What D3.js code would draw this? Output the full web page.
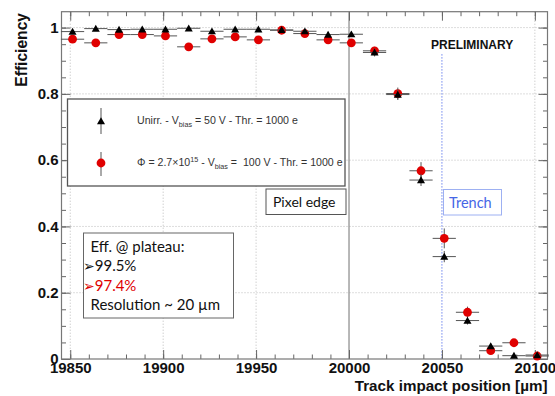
<!DOCTYPE html>
<html>
<head>
<meta charset="utf-8">
<script src="https://cdn.jsdelivr.net/npm/d3@7"></script>
<style>
  body { margin: 0; background: #fff; }
  svg { display: block; }
  .axis path, .axis line { stroke: #666; }
  .lab { font-family: "Liberation Sans", Arial, sans-serif; font-weight: bold; }
  .box { font-family: Lato, "Open Sans", sans-serif; }
</style>
</head>
<body>
<div id="chart"></div>
<script>
// ---------------- DATA ----------------
const binCenters = [19851.25, 19863.75, 19876.25, 19888.75, 19901.25, 19913.75, 19926.25,
  19938.75, 19951.25, 19963.75, 19976.25, 19988.75, 20001.25, 20013.75, 20026.25,
  20038.75, 20051.25, 20063.75, 20076.25, 20088.75, 20101.25];
const binHalfWidth = 6.25;
const unirrEff = [0.988, 0.997, 0.994, 0.995, 0.995, 0.998, 0.989, 0.995, 0.995, 0.993, 0.989,
  0.979, 0.980, 0.925, 0.798, 0.540, 0.309, 0.116, 0.039, 0.010, 0.012];
const unirrErr = [0.006, 0.004, 0.005, 0.005, 0.005, 0.003, 0.006, 0.005, 0.005, 0.005, 0.006,
  0.008, 0.008, 0.012, 0.016, 0.018, 0.017, 0.012, 0.008, 0.005, 0.005];
const irrEff = [0.965, 0.954, 0.979, 0.979, 0.975, 0.942, 0.966, 0.972, 0.963, 0.992, 0.982,
  0.963, 0.954, 0.930, 0.801, 0.568, 0.364, 0.141, 0.025, 0.049, 0.009];
const irrErr = [0.008, 0.009, 0.007, 0.007, 0.007, 0.010, 0.008, 0.008, 0.008, 0.005, 0.006,
  0.008, 0.009, 0.012, 0.018, 0.026, 0.030, 0.017, 0.008, 0.010, 0.005];
const xTicks = [19850, 19900, 19950, 20000, 20050, 20100];
const yTicks = [0, 0.2, 0.4, 0.6, 0.8, 1];
const plateauLines = ["99.5%", "97.4%"];

// ---------------- SETUP ----------------
const width = 555, height = 396;
const pL = 61.5, pR = 547.5, pT = 11.7, pB = 359;

const svg = d3.select("#chart").append("svg")
  .attr("width", width).attr("height", height);

const x = d3.scaleLinear().domain([19845.3, 20106.8]).range([pL, pR]);
const y = d3.scaleLinear().domain([0, 1.048]).range([pB, pT]);

// grid (dotted)
const grid = svg.append("g").attr("stroke", "#bbb").attr("stroke-dasharray", "1,2").attr("stroke-width", 1);
grid.selectAll(".gx").data(xTicks.filter(d => d !== 20000 && d !== 20050)).enter().append("line")
  .attr("x1", d => x(d)).attr("x2", d => x(d)).attr("y1", pT).attr("y2", pB);
grid.selectAll(".gy").data(yTicks.filter(d => d > 0)).enter().append("line")
  .attr("y1", d => y(d)).attr("y2", d => y(d)).attr("x1", pL).attr("x2", pR);

// pixel edge (solid) and trench (blue dotted)
svg.append("line").attr("x1", x(20000)).attr("x2", x(20000)).attr("y1", pT).attr("y2", pB)
  .attr("stroke", "#888").attr("stroke-width", 1.2);
svg.append("line").attr("x1", x(20050)).attr("x2", x(20050)).attr("y1", y(0.92)).attr("y2", pB)
  .attr("stroke", "#6f86ee").attr("stroke-dasharray", "1.5,1.5").attr("stroke-width", 1);

// ---------------- AXES ----------------
const minorX = d3.range(19850, 20107, 10);
const minorY = d3.range(0, 1.04, 0.05);

function addAxis(gen, tf, vals, size, fmt) {
  const g = svg.append("g").attr("class", "axis").attr("transform", tf)
    .call(gen.tickValues(vals).tickSizeInner(size).tickSizeOuter(0).tickPadding(4)
      .tickFormat(fmt || (() => "")));
  g.select(".domain").remove();
  return g;
}
const xb = addAxis(d3.axisBottom(x), `translate(0,${pB})`, xTicks, -9, d3.format("d"));
xb.selectAll("text").attr("class", "lab").attr("font-size", 15).attr("fill", "#111").attr("dy", "0.71em").attr("y", 3.5);
addAxis(d3.axisBottom(x), `translate(0,${pB})`, minorX, -4.5);
addAxis(d3.axisTop(x), `translate(0,${pT})`, xTicks, -9);
addAxis(d3.axisTop(x), `translate(0,${pT})`, minorX, -4.5);
const yl = addAxis(d3.axisLeft(y), `translate(${pL},0)`, yTicks, -9, d => d3.format("")(+d.toFixed(1)));
yl.selectAll("text").attr("class", "lab").attr("font-size", 15).attr("fill", "#111").attr("x", -3);
addAxis(d3.axisLeft(y), `translate(${pL},0)`, minorY, -4.5);
addAxis(d3.axisRight(y), `translate(${pR},0)`, yTicks, -9);
addAxis(d3.axisRight(y), `translate(${pR},0)`, minorY, -4.5);

// frame
svg.append("rect").attr("x", pL).attr("y", pT).attr("width", pR - pL).attr("height", pB - pT)
  .attr("fill", "none").attr("stroke", "#777").attr("stroke-width", 1.2);

// axis titles
svg.append("text").attr("class", "lab").attr("font-size", 15.2).attr("fill", "#111")
  .attr("text-anchor", "end").attr("x", pR).attr("y", 390.5).text("Track impact position [\u00b5m]");
svg.append("text").attr("class", "lab").attr("font-size", 15.6).attr("fill", "#111")
  .attr("text-anchor", "end").attr("transform", "translate(27,13) rotate(-90)").text("Efficiency");

svg.append("text").attr("class", "lab").attr("font-size", 12).attr("fill", "#111")
  .attr("x", 431).attr("y", 49).text("PRELIMINARY");

// ---------------- POINTS ----------------
const tri = d3.symbol().type(d3.symbolTriangle).size(28);
function drawSeries(vals, errs, marker) {
  const g = svg.append("g");
  const pts = binCenters.map((c, i) => ({ c, v: vals[i], e: errs[i] }));
  g.selectAll(".h").data(pts).enter().append("line")
    .attr("x1", d => x(d.c - binHalfWidth)).attr("x2", d => x(d.c + binHalfWidth))
    .attr("y1", d => y(d.v)).attr("y2", d => y(d.v)).attr("stroke", "#555").attr("stroke-width", 1);
  g.selectAll(".v").data(pts).enter().append("line")
    .attr("x1", d => x(d.c)).attr("x2", d => x(d.c))
    .attr("y1", d => y(d.v - d.e)).attr("y2", d => y(d.v + d.e)).attr("stroke", "#555").attr("stroke-width", 1);
  marker(g.selectAll(".m").data(pts).enter(), d => x(d.c), d => y(d.v));
}
const redDot = (sel, fx, fy) => sel.append("circle").attr("cx", fx).attr("cy", fy).attr("r", 4.4).attr("fill", "#e00000");
const blackTri = (sel, fx, fy) => sel.append("path").attr("d", tri)
  .attr("transform", d => `translate(${fx(d)},${fy(d) + 0.8})`).attr("fill", "#000");
drawSeries(irrEff, irrErr, redDot);
drawSeries(unirrEff, unirrErr, blackTri);

// ---------------- LEGEND ----------------
const leg = svg.append("g").attr("font-family", "'Liberation Sans', Arial, sans-serif").attr("font-size", 10.6).attr("fill", "#333");
leg.append("rect").attr("x", 67.5).attr("y", 99).attr("width", 277.5).attr("height", 87)
  .attr("fill", "#fff").attr("stroke", "#555").attr("stroke-width", 1.3);
[[108, 134], [152, 176]].forEach(([y1, y2]) => {
  leg.append("line").attr("x1", 101).attr("x2", 101).attr("y1", y1).attr("y2", y2).attr("stroke", "#555");
});
leg.append("path").attr("d", tri).attr("transform", "translate(101,122)").attr("fill", "#000");
leg.append("circle").attr("cx", 101).attr("cy", 163).attr("r", 4.4).attr("fill", "#e00000");
const t1 = leg.append("text").attr("x", 137).attr("y", 124);
t1.append("tspan").text("Unirr. - V");
t1.append("tspan").attr("font-size", 7.2).attr("dy", 3).text("bias");
t1.append("tspan").attr("dy", -3).text(" = 50 V - Thr. = 1000 e");
const t2 = leg.append("text").attr("x", 137).attr("y", 166).attr("xml:space", "preserve");
t2.append("tspan").text("\u03a6 = 2.7\u00d710");
t2.append("tspan").attr("font-size", 7.2).attr("dy", -4).text("15");
t2.append("tspan").attr("dy", 4).text(" - V");
t2.append("tspan").attr("font-size", 7.2).attr("dy", 3).text("bias");
t2.append("tspan").attr("dy", -3).text(" =  100 V - Thr. = 1000 e");

// ---------------- ANNOTATION BOXES ----------------
const pe = svg.append("g").attr("class", "box");
pe.append("rect").attr("x", 266).attr("y", 189).attr("width", 80).attr("height", 25.5)
  .attr("fill", "#fff").attr("stroke", "#555").attr("stroke-width", 1);
pe.append("text").attr("x", 273).attr("y", 207).attr("font-size", 14).attr("fill", "#111").text("Pixel edge");

const trb = svg.append("g").attr("class", "box");
trb.append("rect").attr("x", 443.5).attr("y", 189.5).attr("width", 58).attr("height", 25.5)
  .attr("fill", "#fff").attr("stroke", "#9db0f2").attr("stroke-width", 1);
trb.append("text").attr("x", 449).attr("y", 207.5).attr("font-size", 14.5).attr("fill", "#4566e6").text("Trench");

const pl = svg.append("g").attr("class", "box").attr("font-size", 15);
pl.append("rect").attr("x", 83.5).attr("y", 233).attr("width", 150).attr("height", 85)
  .attr("fill", "#fff").attr("stroke", "#666").attr("stroke-width", 1);
pl.append("text").attr("x", 90.5).attr("y", 252).attr("fill", "#111").text("Eff. @ plateau:");
const colors = ["#111", "#e00000"];
plateauLines.forEach((s, i) => {
  const t = pl.append("text").attr("x", 83).attr("y", 271 + i * 19.5).attr("fill", colors[i]);
  t.append("tspan").attr("font-family", "'DejaVu Sans'").attr("font-size", 14).text("\u27a2");
  t.append("tspan").text(s);
});
pl.append("text").attr("x", 90.5).attr("y", 310).attr("fill", "#111").text("Resolution ~ 20 \u00b5m");
</script>
</body>
</html>
